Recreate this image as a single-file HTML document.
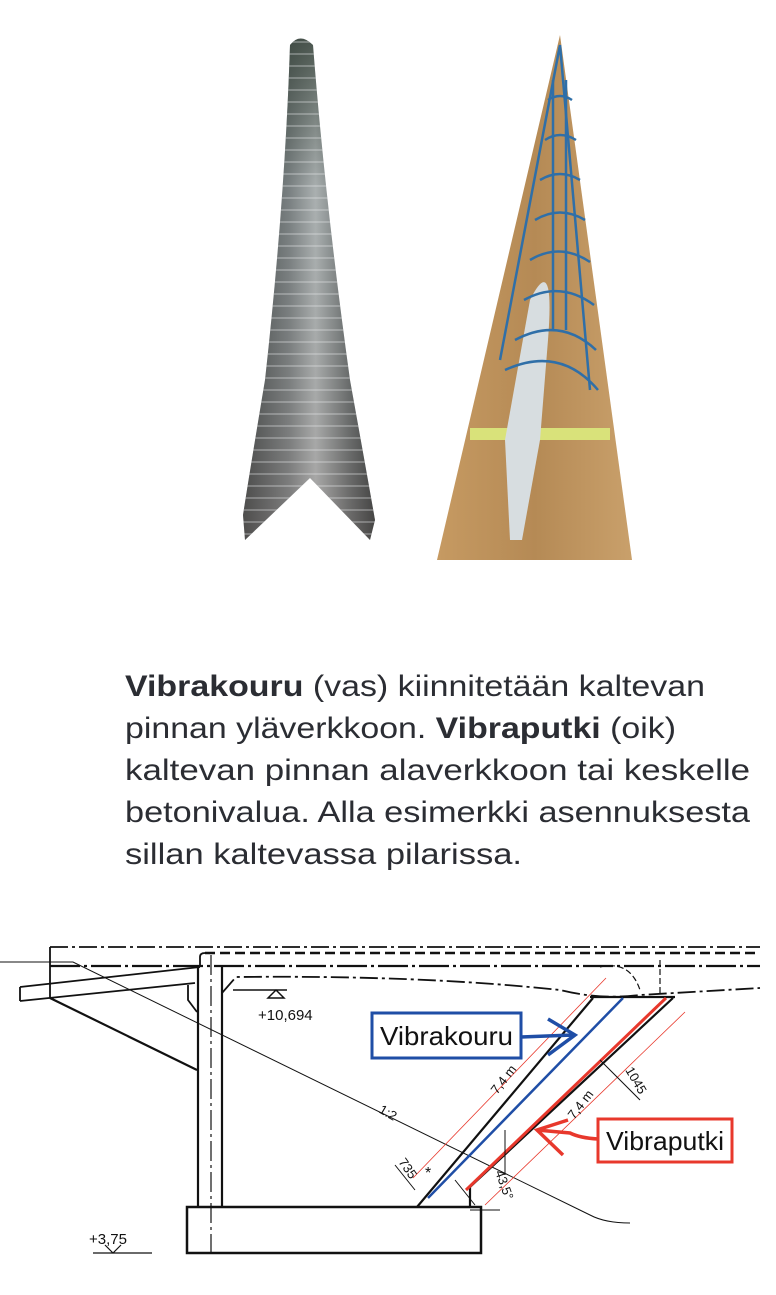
<!DOCTYPE html>
<html><head><meta charset="utf-8">
<style>
html,body{margin:0;padding:0;background:#fff;}
svg{display:block;}
</style></head>
<body>
<svg width="776" height="1295" viewBox="0 0 776 1295" xmlns="http://www.w3.org/2000/svg">
<defs>
<linearGradient id="cone" x1="0" y1="0" x2="1" y2="0">
<stop offset="0" stop-color="#4a4f52"/><stop offset="0.35" stop-color="#8d9296"/><stop offset="0.55" stop-color="#c9cdd0"/><stop offset="0.8" stop-color="#767b7e"/><stop offset="1" stop-color="#3e4346"/>
</linearGradient>
<linearGradient id="coneV" x1="0" y1="0" x2="0" y2="1">
<stop offset="0" stop-color="#2d3a30" stop-opacity="0.8"/><stop offset="0.3" stop-color="#2d3a30" stop-opacity="0.2"/><stop offset="1" stop-color="#5a4a40" stop-opacity="0.3"/>
</linearGradient>
<linearGradient id="wood" x1="0" y1="0" x2="1" y2="0">
<stop offset="0" stop-color="#c69a62"/><stop offset="0.5" stop-color="#b58a55"/><stop offset="1" stop-color="#c9a06b"/>
</linearGradient>
<pattern id="rings" width="300" height="12" patternUnits="userSpaceOnUse">
<path d="M0 6 H300" stroke="#e6e8ea" stroke-width="2" opacity="0.6"/>
</pattern>
</defs>

<path id="cs" d="M290 45 Q300 32 313 45 Q325 200 350 380 Q368 480 375 520 L370 540 L310 478 L245 540 L243 515 Q250 470 265 380 Q285 200 290 45 Z" fill="url(#cone)"/>
<path d="M290 45 Q300 32 313 45 Q325 200 350 380 Q368 480 375 520 L370 540 L310 478 L245 540 L243 515 Q250 470 265 380 Q285 200 290 45 Z" fill="url(#coneV)"/>
<path d="M290 45 Q300 32 313 45 Q325 200 350 380 Q368 480 375 520 L370 540 L310 478 L245 540 L243 515 Q250 470 265 380 Q285 200 290 45 Z" fill="url(#rings)" opacity="0.5"/>

<path d="M560 35 L632 560 L437 560 Z" fill="url(#wood)"/>
<rect x="470" y="428" width="140" height="12" fill="#d9e27a"/>
<path d="M530 300 Q555 250 548 340 L540 440 L522 540 L510 540 L505 440 Z" fill="#d7dde0"/>
<g stroke="#2f6fa8" stroke-width="2.5" fill="none">
<path d="M560 45 L500 360 M560 45 L590 390"/>
<path d="M548 100 Q560 92 572 100 M545 140 Q560 130 576 140 M540 180 Q560 168 580 180 M535 220 Q560 205 585 220 M530 260 Q560 242 590 262 M524 300 Q560 280 594 305 M515 340 Q560 316 596 350 M505 370 Q560 345 598 390"/>
<path d="M553 80 L553 330 M566 80 L566 330"/>
</g>

<g font-family="'Liberation Sans', sans-serif" font-size="30" fill="#2b2d33">
<text x="125" y="696" textLength="580" lengthAdjust="spacingAndGlyphs"><tspan font-weight="bold">Vibrakouru</tspan> (vas) kiinnitetään kaltevan</text>
<text x="125" y="738" textLength="551" lengthAdjust="spacingAndGlyphs">pinnan yläverkkoon. <tspan font-weight="bold">Vibraputki</tspan> (oik)</text>
<text x="125" y="780" textLength="625" lengthAdjust="spacingAndGlyphs">kaltevan pinnan alaverkkoon tai keskelle</text>
<text x="125" y="822" textLength="625" lengthAdjust="spacingAndGlyphs">betonivalua. Alla esimerkki asennuksesta</text>
<text x="125" y="864" textLength="397" lengthAdjust="spacingAndGlyphs">sillan kaltevassa pilarissa.</text>
</g>

<g stroke="#111" fill="none" stroke-width="1.8">
<path d="M50 947 H760" stroke-dasharray="18 4 3 4"/>
<path d="M205 953 H760" stroke-dasharray="10 5" stroke-width="2.5"/>
<path d="M50 966 H760" stroke-dasharray="30 4 3 4" stroke-width="2.2"/>
<path d="M50 947 V998"/>
<path d="M200 966 V957 Q200 953 205 953"/>
<path d="M20 987 L200 967 M20 1001 L195 983 M20 987 V1001"/>
<path d="M50 998 L197 1070" stroke-width="2.2"/>
<path d="M188 985 V1000 L197 1012"/>
<path d="M198 966 V1207 M222 966 V1207" stroke-width="2.2"/>
<path d="M211 955 V1253" stroke-dasharray="20 4 3 4" stroke-width="1.2"/>
<rect x="187" y="1207" width="294" height="46" stroke-width="2.5"/>
<path d="M222 993 L236 977 Q420 975 560 990 Q600 1000 640 995 L760 988" stroke-dasharray="18 4 3 4" stroke-width="1.8"/>
<path d="M233 990 H287 M268 998 L276 990 L284 998 Z" stroke-width="1.5"/>
<path d="M417 1207 L593 998 M470 1207 L470 1187 L673 998 M590 997 H675" stroke-width="2.2"/>
<path d="M600 967 Q630 960 640 990 M660 960 V995" stroke-width="1.2" stroke-dasharray="6 3"/>
<path d="M0 962 H73 L590 1215 Q605 1223 630 1223" stroke-width="1"/>
</g>
<path d="M428 1198 L623 998" stroke="#1f4ea6" stroke-width="2.5"/>
<path d="M466 1190 L666 998" stroke="#e8382c" stroke-width="3"/>
<g stroke="#e8382c" stroke-width="0.8" fill="none">
<path d="M413 1178 L606 978 M485 1205 L685 1012"/>
</g>
<g stroke="#111" stroke-width="1" fill="none">
<path d="M455 1180 L475 1205 M395 1165 L415 1190 M600 1060 L640 1100 M505 1130 L505 1175 M470 1210 L500 1210"/>
</g>
<g font-family="'Liberation Sans', sans-serif" font-size="13" fill="#111">
<text x="258" y="1020" font-size="15">+10,694</text>
<text x="89" y="1244" font-size="15">+3,75</text>
<text transform="translate(378 1112) rotate(30)">1:2</text>
<text transform="translate(497 1095) rotate(-52)">7,4 m</text>
<text transform="translate(574 1120) rotate(-52)">7,4 m</text>
<text transform="translate(625 1070) rotate(60)">1045</text>
<text transform="translate(398 1162) rotate(55)">735</text>
<text transform="translate(495 1172) rotate(70)">43,5°</text>
<text x="425" y="1178" font-size="16">*</text>
</g>
<path d="M93 1253 H152 M105 1245 L113 1253 L121 1245" stroke="#111" stroke-width="1.2" fill="none"/>

<rect x="372" y="1013" width="149" height="45" fill="#fff" stroke="#1f4ea6" stroke-width="3"/>
<text x="380" y="1045" textLength="133" lengthAdjust="spacingAndGlyphs" font-family="'Liberation Sans', sans-serif" font-size="26" fill="#111">Vibrakouru</text>
<path d="M521 1037 L573 1035 M548 1019 L575 1035 L548 1055" stroke="#1f4ea6" stroke-width="3.5" fill="none"/>

<rect x="598" y="1119" width="134" height="43" fill="#fff" stroke="#e8382c" stroke-width="3"/>
<text x="606" y="1150" textLength="118" lengthAdjust="spacingAndGlyphs" font-family="'Liberation Sans', sans-serif" font-size="26" fill="#111">Vibraputki</text>
<path d="M598 1139 Q580 1138 570 1133 L537 1130 M568 1120 L537 1130 L563 1155" stroke="#e8382c" stroke-width="3.5" fill="none"/>
</svg>
</body></html>
